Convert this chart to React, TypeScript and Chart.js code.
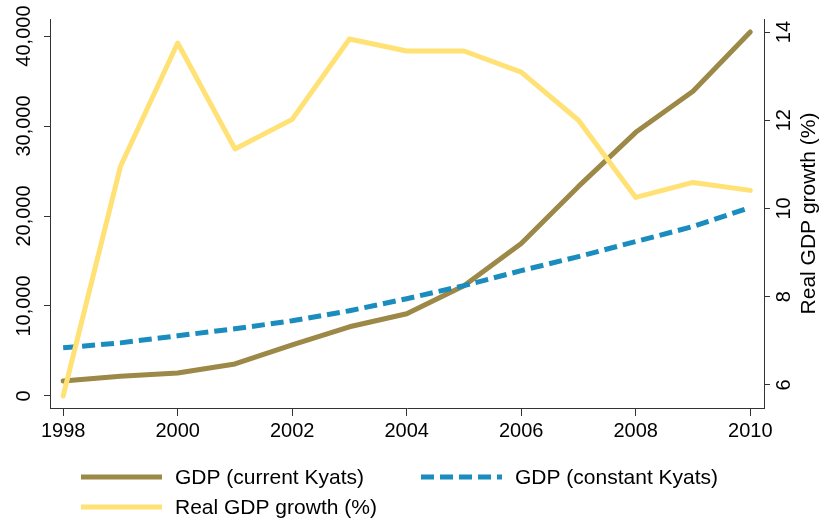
import React, { useEffect, useRef } from "react";
import { Chart, registerables } from "chart.js";

Chart.register(...registerables);

const years = [1998, 1999, 2000, 2001, 2002, 2003, 2004, 2005, 2006, 2007, 2008, 2009, 2010];
const gdpCurrent = [1670, 2200, 2560, 3560, 5680, 7690, 9140, 12260, 16940, 23290, 29300, 33870, 40450];
const gdpConstant = [5350, 5900, 6690, 7460, 8360, 9470, 10810, 12260, 13930, 15490, 17160, 18830, 20950];
const realGrowth = [5.75, 10.95, 13.75, 11.35, 12.02, 13.84, 13.57, 13.57, 13.09, 12.0, 10.25, 10.59, 10.41];

const xTicks = [1998, 2000, 2002, 2004, 2006, 2008, 2010];
const leftTicks = [0, 10000, 20000, 30000, 40000];
const rightTicks = [6, 8, 10, 12, 14];

const labelCurrent = "GDP (current Kyats)";
const labelConstant = "GDP (constant Kyats)";
const labelGrowth = "Real GDP growth (%)";
const rightTitle = "Real GDP growth (%)";

const BROWN = "#9c8847";
const BLUE = "#1a8cbe";
const YELLOW = "#ffe175";
const FONT = "Liberation Sans, Arial, Helvetica, sans-serif";

const customDraw = {
  id: "customDraw",
  afterDraw(chart: any) {
    const ctx = chart.ctx;
    const ca = chart.chartArea;
    const sx = chart.scales.x;
    const sy = chart.scales.y;
    const sy1 = chart.scales.y1;
    ctx.save();
    ctx.fillStyle = "#000";
    ctx.font = `20px ${FONT}`;
    ctx.textAlign = "center";
    ctx.textBaseline = "middle";
    // x labels
    xTicks.forEach((v) => {
      ctx.fillText(String(v), sx.getPixelForValue(v), ca.bottom + 23);
    });
    // left labels rotated
    leftTicks.forEach((v) => {
      const y = sy.getPixelForValue(v);
      ctx.save();
      ctx.translate(ca.left - 26, y);
      ctx.rotate(-Math.PI / 2);
      ctx.fillText(v.toLocaleString("en-US"), 0, 0);
      ctx.restore();
    });
    // right labels rotated
    rightTicks.forEach((v) => {
      const y = sy1.getPixelForValue(v);
      ctx.save();
      ctx.translate(ca.right + 20, y);
      ctx.rotate(-Math.PI / 2);
      ctx.fillText(String(v), 0, 0);
      ctx.restore();
    });
    // right title
    ctx.save();
    ctx.font = `21px ${FONT}`;
    ctx.translate(ca.right + 45, (ca.top + ca.bottom) / 2);
    ctx.rotate(-Math.PI / 2);
    ctx.fillText(rightTitle, 0, 0);
    ctx.restore();

    // legend
    const items = [
      { ds: chart.data.datasets[1], x: 81, y: 477 },
      { ds: chart.data.datasets[2], x: 421, y: 477 },
      { ds: chart.data.datasets[0], x: 81, y: 507 },
    ];
    items.forEach((it) => {
      ctx.save();
      ctx.strokeStyle = it.ds.borderColor;
      ctx.lineWidth = 5;
      ctx.lineCap = "butt";
      ctx.setLineDash(it.ds.borderDash || []);
      ctx.beginPath();
      ctx.moveTo(it.x, it.y);
      ctx.lineTo(it.x + 81, it.y);
      ctx.stroke();
      ctx.restore();
      ctx.save();
      ctx.font = `21px ${FONT}`;
      ctx.fillStyle = "#000";
      ctx.textAlign = "left";
      ctx.textBaseline = "middle";
      ctx.fillText(it.ds.label, it.x + 94, it.y + 1);
      ctx.restore();
    });
    ctx.restore();
  },
};

export default function App() {
  const ref = useRef<HTMLCanvasElement>(null);
  useEffect(() => {
    if (!ref.current) return;
    const axisGrid = {
      display: true,
      drawOnChartArea: false,
      drawTicks: true,
      color: "#333",
      lineWidth: 1,
    };
    const chart = new Chart(ref.current, {
      type: "line",
      data: {
        datasets: [
          {
            label: labelGrowth,
            data: years.map((x, i) => ({ x, y: realGrowth[i] })),
            borderColor: YELLOW,
            backgroundColor: YELLOW,
            borderWidth: 5,
            borderCapStyle: "round",
            borderJoinStyle: "round",
            pointRadius: 0,
            tension: 0,
            yAxisID: "y1",
            order: 0,
            clip: false,
          },
          {
            label: labelCurrent,
            data: years.map((x, i) => ({ x, y: gdpCurrent[i] })),
            borderColor: BROWN,
            backgroundColor: BROWN,
            borderWidth: 5,
            borderCapStyle: "round",
            borderJoinStyle: "round",
            pointRadius: 0,
            tension: 0,
            yAxisID: "y",
            order: 2,
            clip: false,
          },
          {
            label: labelConstant,
            data: years.map((x, i) => ({ x, y: gdpConstant[i] })),
            borderColor: BLUE,
            backgroundColor: BLUE,
            borderWidth: 5,
            borderDash: [13, 6],
            borderCapStyle: "butt",
            pointRadius: 0,
            tension: 0,
            yAxisID: "y",
            order: 1,
            clip: false,
          },
        ],
      } as any,
      options: {
        animation: false,
        responsive: false,
        maintainAspectRatio: false,
        layout: { padding: { top: 19, left: 0, right: 0, bottom: 0 } },
        plugins: { legend: { display: false }, tooltip: { enabled: false } },
        scales: {
          x: {
            type: "linear",
            min: 1997.77,
            max: 2010.24,
            afterBuildTicks: (s: any) => {
              s.ticks = xTicks.map((v) => ({ value: v }));
            },
            afterFit: (s: any) => {
              s.height = 116;
            },
            ticks: { display: false },
            grid: { ...axisGrid, tickLength: 8 },
            border: { display: true, color: "#333", width: 1 },
          },
          y: {
            type: "linear",
            position: "left",
            min: -1337,
            max: 41894,
            afterBuildTicks: (s: any) => {
              s.ticks = leftTicks.map((v) => ({ value: v }));
            },
            afterFit: (s: any) => {
              s.width = 50;
            },
            ticks: { display: false },
            grid: { ...axisGrid, tickLength: 6 },
            border: { display: true, color: "#333", width: 1 },
          },
          y1: {
            type: "linear",
            position: "right",
            min: 5.477,
            max: 14.295,
            afterBuildTicks: (s: any) => {
              s.ticks = rightTicks.map((v) => ({ value: v }));
            },
            afterFit: (s: any) => {
              s.width = 61;
            },
            ticks: { display: false },
            grid: { ...axisGrid, tickLength: 6 },
            border: { display: true, color: "#333", width: 1 },
          },
        },
      } as any,
      plugins: [customDraw],
    });
    return () => chart.destroy();
  }, []);
  return (
    <div style={{ position: "absolute", left: 0, top: 0, width: 825, height: 524, background: "#fff" }}>
      <canvas ref={ref} width={825} height={524} style={{ width: 825, height: 524 }} />
    </div>
  );
}
